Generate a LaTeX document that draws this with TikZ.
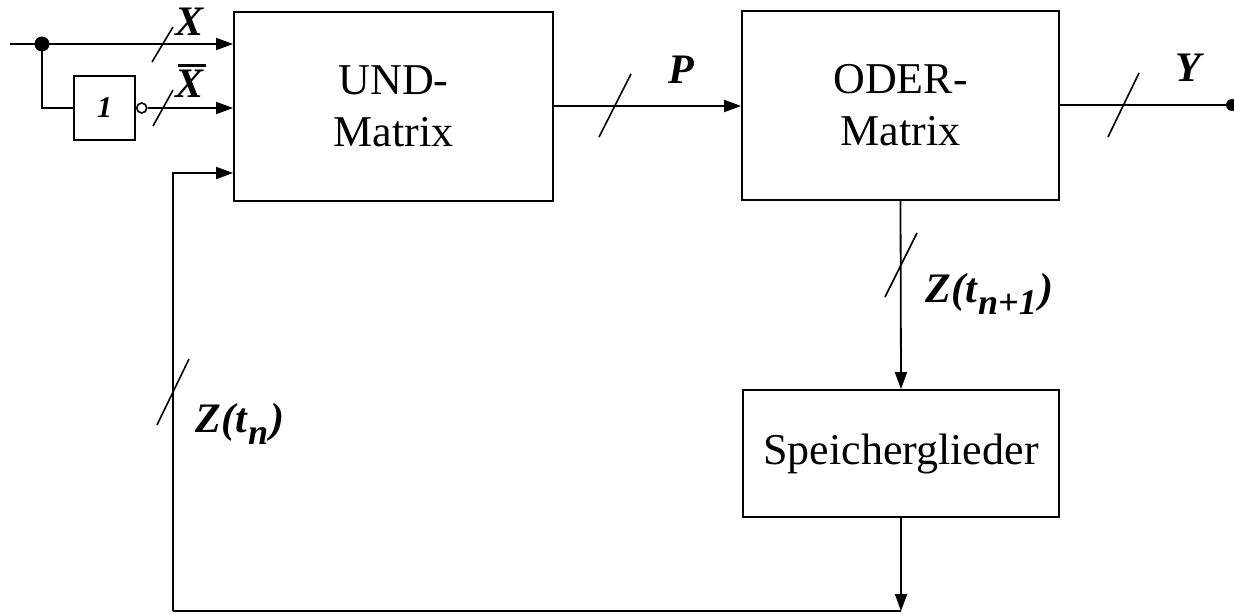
\documentclass[tikz,border=0pt]{standalone}
\usepackage{fontspec}
\setmainfont{Liberation Serif}
\usetikzlibrary{arrows.meta,calc}
\begin{document}
\begin{tikzpicture}[x=1pt,y=-1pt,
  line width=1.8pt,
  box/.style={draw,rectangle,inner sep=0pt,align=center,font=\fontsize{44}{52}\selectfont},
  sig/.style={-{Triangle[length=17pt,width=12pt]}},
  slash/.style={line width=1.6pt},
  lab/.style={font=\fontsize{42}{46}\selectfont\bfseries\itshape,inner sep=0pt},
  dotn/.style={circle,fill,inner sep=0pt,minimum size=15pt},
  bubble/.style={circle,draw,fill=white,line width=1.6pt,inner sep=0pt,minimum size=10pt}]
\useasboundingbox (0,0) rectangle (1234,613);
% blocks
\node[box,minimum width=319pt,minimum height=189pt] (und) at (393.5,106.5) {UND-\\Matrix};
\node[box,minimum width=317pt,minimum height=189pt] (oder) at (900.5,105.5) {ODER-\\Matrix};
\node[box,minimum width=316pt,minimum height=127pt] (spg) at (901,453.5) {Speicherglieder};
\node[box,minimum width=61pt,minimum height=64pt,font=\fontsize{30}{30}\selectfont\bfseries\itshape] (notg) at (104.5,108) {1};
\node[bubble,anchor=west] (bub) at (notg.east) {};
% coordinates
\coordinate (in) at (10,44);
\node[dotn] (dot) at (42,44) {};
\coordinate (fbx) at (173,173);
\coordinate (fbb) at (173,611);
\coordinate (yend) at (1234,105);
% connectors
\draw[sig] (in) -- (dot.center -| und.west);
\draw (dot.center) |- (notg.west);
\draw[sig] (bub.east) -- (bub.east -| und.west);
\draw[sig] (fbb) -- (fbx) -- (fbx -| und.west);
\draw[sig] (und.east |- 0,106) -- (oder.west |- 0,106);
\draw (oder.east |- 0,105) -- (yend);
\fill (yend) ++(-2,0) circle (6pt);
\draw[sig] (oder.south) -- (spg.north);
\draw[sig] (spg.south) -- (spg.south |- fbb);
\draw (spg.south |- fbb) -- (fbb);
% slashes
\draw[slash] ($(162,44)+(-10,18)$) -- ($(162,44)+(11,-17)$);
\draw[slash] ($(163,108)+(-10,18)$) -- ($(163,108)+(10,-18)$);
\draw[slash] ($(615,106)+(-16,31)$) -- ($(615,106)+(16,-32)$);
\draw[slash] ($(1123,105)+(-15,32)$) -- ($(1123,105)+(16,-32)$);
\draw[slash] ($(901,265)+(-16,32)$) -- ($(901,265)+(16,-32)$);
\draw[slash] ($(173,392)+(-16,33)$) -- ($(173,392)+(16,-33)$);
% labels
\node[lab] (lx) at (190,22) {X};
\node[lab] (lxb) at (190,84) {X};
\draw[line width=2.6pt] ([xshift=-12pt,yshift=4pt]lxb.north) -- ([xshift=16pt,yshift=4pt]lxb.north);
\node[lab] (lp) at (681,70) {P};
\node[lab] (ly) at (1188,68) {Y};
\node[lab,anchor=base west] (lz1) at (925,302) {Z(t\kern1pt\raisebox{-0.3em}{\fontsize{36}{36}\selectfont n+1\kern3pt})};
\node[lab,anchor=base west] (lz) at (195,432) {Z(t\kern1pt\raisebox{-0.3em}{\fontsize{36}{36}\selectfont n\kern2pt})};
\end{tikzpicture}
\end{document}
